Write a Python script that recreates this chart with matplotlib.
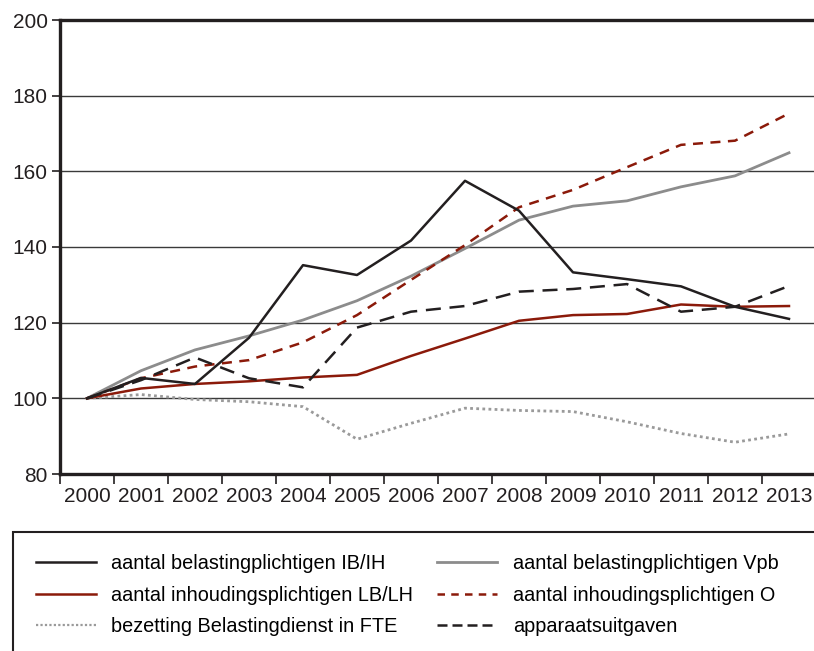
import matplotlib
matplotlib.use("Agg")
import matplotlib.pyplot as plt
from matplotlib.patches import Rectangle
from matplotlib.lines import Line2D
import numpy as np

# data (index, 2000 = 100)
years = [str(y) for y in range(2000, 2014)]
ib_ih = [100, 105.4, 103.8, 116.0, 135.2, 132.6, 141.7, 157.5, 149.6, 133.3, 131.5, 129.6, 124.2, 121.0]
vpb = [100, 107.3, 112.8, 116.5, 120.7, 125.8, 132.3, 139.6, 147.1, 150.8, 152.2, 155.9, 158.8, 164.9]
lb_lh = [100, 102.6, 103.8, 104.5, 105.5, 106.2, 111.2, 115.8, 120.5, 122.0, 122.3, 124.8, 124.2, 124.4]
inh_o = [100, 105.3, 108.4, 110.1, 114.8, 122.0, 131.3, 140.5, 150.5, 155.1, 161.1, 167.0, 168.1, 175.3]
fte = [100, 101.0, 99.7, 99.1, 97.8, 89.2, 93.4, 97.4, 96.8, 96.5, 93.8, 90.7, 88.4, 90.6]
apparaat = [100, 104.8, 110.8, 105.3, 102.9, 118.7, 122.9, 124.4, 128.2, 128.9, 130.2, 122.9, 124.2, 129.7]

labels = ["aantal belastingplichtigen IB/IH", "aantal belastingplichtigen Vpb",
          "aantal inhoudingsplichtigen LB/LH", "aantal inhoudingsplichtigen O",
          "bezetting Belastingdienst in FTE", "apparaatsuitgaven"]

BLACK = "#231f20"
RED = "#8b1a0a"
GRAY = "#8c8c8c"
LGRAY = "#9a9a9a"

plt.rcParams['font.family'] = ['Liberation Sans', 'DejaVu Sans']

W, H = 814, 651
fig = plt.figure(figsize=(W / 100, H / 100), dpi=100)
ax = fig.add_axes([60 / W, (H - 474) / H, 756 / W, 454 / H])

x = np.arange(len(years))
# gridlines first
for g in [100, 120, 140, 160, 180]:
    ax.axhline(g, color="#3a3a3a", lw=1.0, zorder=1)

ax.plot(x, fte, color=LGRAY, lw=2.0, dashes=(1, 1.2), zorder=3)
ax.plot(x, vpb, color=GRAY, lw=2.0, zorder=3)
ax.plot(x, lb_lh, color=RED, lw=1.8, zorder=3)
ax.plot(x, inh_o, color=RED, lw=1.8, dashes=(4, 3), zorder=4)
ax.plot(x, apparaat, color=BLACK, lw=1.8, dashes=(6, 3.5), zorder=4)
ax.plot(x, ib_ih, color=BLACK, lw=1.8, zorder=5)

ax.set_xlim(-0.5, len(years) - 0.5)
ax.set_ylim(80, 200)
ax.set_yticks([80, 100, 120, 140, 160, 180, 200])
ax.set_xticks(x)
ax.set_xticklabels(years)
ax.set_xticks(np.arange(-0.5, len(years)), minor=True)
ax.tick_params(axis="x", which="major", length=0, pad=9, labelsize=15, colors=BLACK)
ax.tick_params(axis="x", which="minor", length=7, width=1.2, direction="out", color=BLACK)
ax.tick_params(axis="y", length=6, width=1.2, direction="out", labelsize=15, pad=3, colors=BLACK)

for s in ["left", "bottom", "top"]:
    ax.spines[s].set_linewidth(2.4)
    ax.spines[s].set_color(BLACK)
ax.spines["right"].set_visible(False)

# legend box
fig.add_artist(Rectangle((13 / W, -0.05), 1.0, (H - 532) / H + 0.05, transform=fig.transFigure,
                         fill=False, edgecolor=BLACK, lw=1.5))

handles = [
    Line2D([], [], color=BLACK, lw=1.8),
    Line2D([], [], color=RED, lw=1.8),
    Line2D([], [], color=LGRAY, lw=1.6, dashes=(1, 1)),
    Line2D([], [], color=GRAY, lw=2.0),
    Line2D([], [], color=RED, lw=1.8, dashes=(3, 2.5)),
    Line2D([], [], color=BLACK, lw=1.8, dashes=(4, 2)),
]
leg_labels = [labels[0], labels[2], labels[4], labels[1], labels[3], labels[5]]
fig.legend(handles, leg_labels, loc="upper left", bbox_to_anchor=(36 / W, (H - 554) / H),
           ncol=2, frameon=False, borderpad=0, borderaxespad=0,
           handlelength=3.0, handletextpad=0.8, columnspacing=1.2,
           labelspacing=0.63, fontsize=14.3)

fig.savefig("out.png", dpi=100)
